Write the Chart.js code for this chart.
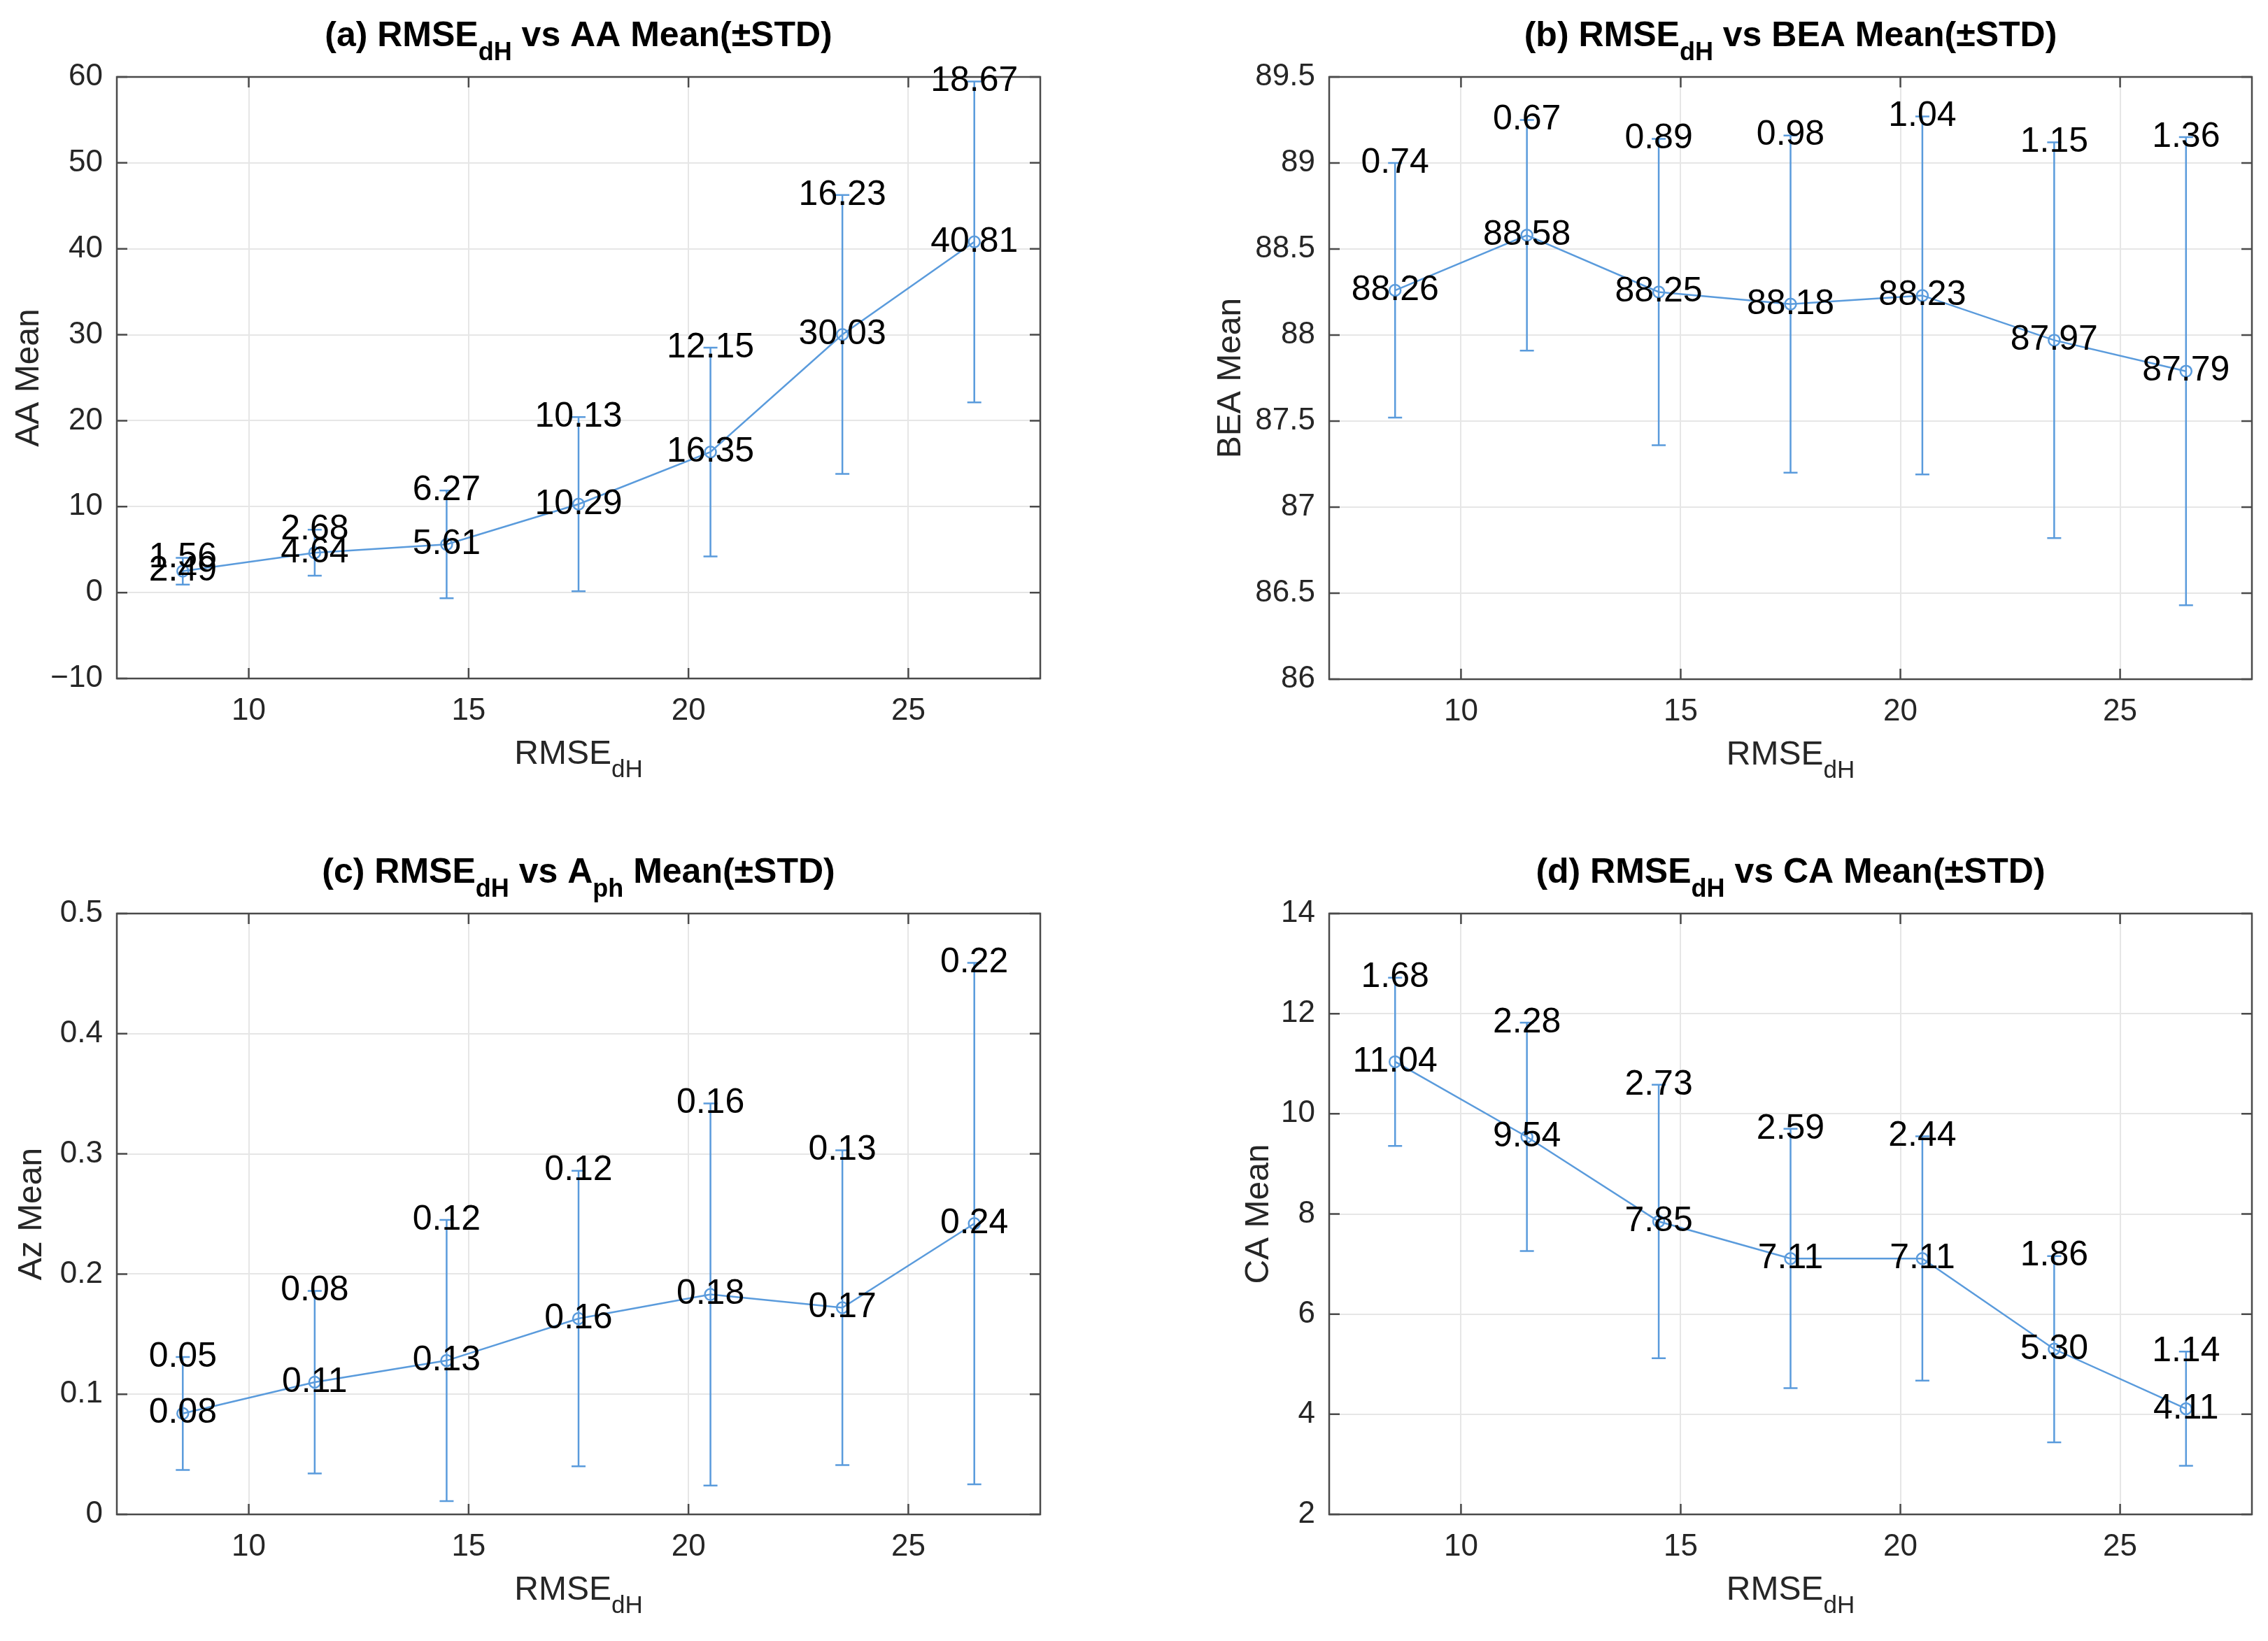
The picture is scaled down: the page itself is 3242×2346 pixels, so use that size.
<!DOCTYPE html>
<html>
<head>
<meta charset="utf-8">
<script src="https://cdn.jsdelivr.net/npm/chart.js@4.4.1/dist/chart.umd.min.js"></script>
<style>
  html, body { margin: 0; padding: 0; background: #fff; }
  .panel { position: absolute; width: 1621px; height: 1173px; }
</style>
</head>
<body>
<div class="panel" style="left:0;top:0"><canvas id="chartA"></canvas></div>
<div class="panel" style="left:1621px;top:0"><canvas id="chartB"></canvas></div>
<div class="panel" style="left:0;top:1173px"><canvas id="chartC"></canvas></div>
<div class="panel" style="left:1621px;top:1173px"><canvas id="chartD"></canvas></div>
<script>
// RMSE_dH bin centres
const rmseX = [8.5, 11.5, 14.5, 17.5, 20.5, 23.5, 26.5];

// (a) AA
const aaMean = [2.49, 4.64, 5.61, 10.29, 16.35, 30.03, 40.81];
const aaStd = [1.56, 2.68, 6.27, 10.13, 12.15, 16.23, 18.67];
// (b) BEA
const beaMean = [88.26, 88.58, 88.25, 88.18, 88.23, 87.97, 87.79];
const beaStd = [0.74, 0.67, 0.89, 0.98, 1.04, 1.15, 1.36];
// (c) Az
const azMean = [0.084, 0.11, 0.128, 0.163, 0.183, 0.172, 0.242];
const azStd = [0.047, 0.076, 0.117, 0.123, 0.159, 0.131, 0.217];
// (d) CA
const caMean = [11.04, 9.54, 7.85, 7.11, 7.11, 5.30, 4.11];
const caStd = [1.68, 2.28, 2.73, 2.59, 2.44, 1.86, 1.14];

// ticks
const xTicks = [10, 15, 20, 25];
const yTicksA = [-10, 0, 10, 20, 30, 40, 50, 60];
const yTicksB = [86, 86.5, 87, 87.5, 88, 88.5, 89, 89.5];
const yTicksC = [0, 0.1, 0.2, 0.3, 0.4, 0.5];
const yTicksD = [2, 4, 6, 8, 10, 12, 14];

const BLUE = '#5a9bdc';
const FONT = "'Liberation Sans', Arial, Helvetica, sans-serif";
const TXT = '#262626';

function drawRich(ctx, parts, cx, baseline, size, weight) {
  let total = 0;
  parts.forEach(p => {
    ctx.font = weight + ' ' + (p.sub ? Math.round(size * 0.72) : size) + 'px ' + FONT;
    p.w = ctx.measureText(p.t).width;
    total += p.w;
  });
  let x = cx - total / 2;
  ctx.textAlign = 'left';
  ctx.textBaseline = 'alphabetic';
  parts.forEach(p => {
    ctx.font = weight + ' ' + (p.sub ? Math.round(size * 0.72) : size) + 'px ' + FONT;
    ctx.fillText(p.t, x, baseline + (p.sub ? size * 0.4 : 0));
    x += p.w;
  });
}

const matlabLook = {
  id: 'matlabLook',
  beforeDatasetsDraw(chart, args, opts) {
    const ctx = chart.ctx, x = chart.scales.x, y = chart.scales.y;
    const pts = chart.data.datasets[0].data;
    ctx.save();
    ctx.strokeStyle = BLUE;
    ctx.lineWidth = 2.5;
    pts.forEach((p, i) => {
      const px = x.getPixelForValue(p.x);
      const top = y.getPixelForValue(p.y + opts.std[i]);
      const bot = y.getPixelForValue(p.y - opts.std[i]);
      ctx.beginPath();
      ctx.moveTo(px, top); ctx.lineTo(px, bot);
      ctx.moveTo(px - 10, top); ctx.lineTo(px + 10, top);
      ctx.moveTo(px - 10, bot); ctx.lineTo(px + 10, bot);
      ctx.stroke();
    });
    ctx.restore();
  },
  afterDraw(chart, args, opts) {
    const ctx = chart.ctx, x = chart.scales.x, y = chart.scales.y;
    const a = chart.chartArea;
    const pts = chart.data.datasets[0].data;
    ctx.save();
    // box + inward ticks
    ctx.strokeStyle = '#4a4a4a';
    ctx.lineWidth = 2.5;
    ctx.strokeRect(a.left, a.top, a.right - a.left, a.bottom - a.top);
    ctx.beginPath();
    opts.yTicks.forEach(v => {
      const py = y.getPixelForValue(v);
      ctx.moveTo(a.left, py); ctx.lineTo(a.left + 15, py);
      ctx.moveTo(a.right, py); ctx.lineTo(a.right - 15, py);
    });
    xTicks.forEach(v => {
      const px = x.getPixelForValue(v);
      ctx.moveTo(px, a.bottom); ctx.lineTo(px, a.bottom - 15);
      ctx.moveTo(px, a.top); ctx.lineTo(px, a.top + 15);
    });
    ctx.stroke();

    // value labels
    ctx.fillStyle = '#000';
    ctx.font = '50px ' + FONT;
    ctx.textAlign = 'center';
    ctx.textBaseline = 'middle';
    pts.forEach((p, i) => {
      const px = x.getPixelForValue(p.x);
      ctx.fillText(p.y.toFixed(2), px, y.getPixelForValue(p.y));
      ctx.fillText(opts.std[i].toFixed(2), px, y.getPixelForValue(p.y + opts.std[i]));
    });

    // title and axis labels
    const cx = (a.left + a.right) / 2;
    ctx.fillStyle = '#000';
    drawRich(ctx, opts.title, cx, a.top - 44, 50, 'bold');
    ctx.fillStyle = TXT;
    drawRich(ctx, [{t: 'RMSE'}, {t: 'dH', sub: true}], cx, a.bottom + 122, 48, 'normal');
    ctx.translate(a.left - opts.yLabelOffset, (a.top + a.bottom) / 2);
    ctx.rotate(-Math.PI / 2);
    ctx.font = '48px ' + FONT;
    ctx.textAlign = 'center';
    ctx.textBaseline = 'middle';
    ctx.fillText(opts.yLabel, 0, 0);
    ctx.restore();
  }
};

function makePanel(id, mean, std, yTicks, title, yLabel, yLabelOffset, pad) {
  new Chart(document.getElementById(id), {
    type: 'line',
    data: {
      datasets: [{
        data: rmseX.map((v, i) => ({x: v, y: mean[i]})),
        borderColor: BLUE,
        borderWidth: 2.5,
        pointRadius: 8,
        pointBorderWidth: 2.5,
        pointBorderColor: BLUE,
        pointBackgroundColor: 'rgba(0,0,0,0)',
        fill: false,
        tension: 0
      }]
    },
    options: {
      responsive: true,
      maintainAspectRatio: false,
      animation: false,
      layout: { padding: pad },
      plugins: {
        legend: { display: false },
        tooltip: { enabled: false },
        matlabLook: { std: std, yTicks: yTicks, title: title, yLabel: yLabel, yLabelOffset: yLabelOffset }
      },
      scales: {
        x: {
          type: 'linear',
          min: 7,
          max: 28,
          afterBuildTicks: s => { s.ticks = xTicks.map(v => ({value: v})); },
          afterFit: s => { s.height = 100; },
          grid: { color: '#e6e6e6', lineWidth: 2, drawTicks: false },
          border: { display: false },
          ticks: { color: TXT, font: { size: 44, family: FONT }, padding: 20, maxRotation: 0, autoSkip: false }
        },
        y: {
          type: 'linear',
          min: yTicks[0],
          max: yTicks[yTicks.length - 1],
          afterBuildTicks: s => { s.ticks = yTicks.map(v => ({value: v})); },
          afterFit: s => { s.width = 167; },
          grid: { color: '#e6e6e6', lineWidth: 2, drawTicks: false },
          border: { display: false },
          ticks: {
            color: TXT,
            font: { size: 44, family: FONT },
            padding: 20,
            autoSkip: false,
            callback: v => String(v).replace('-', '\u2212')
          }
        }
      }
    },
    plugins: [matlabLook]
  });
}

makePanel('chartA', aaMean, aaStd, yTicksA,
  [{t: '(a) RMSE'}, {t: 'dH', sub: true}, {t: ' vs AA Mean(\u00b1STD)'}],
  'AA Mean', 125, {left: 0, right: 134, top: 110, bottom: 103});
makePanel('chartB', beaMean, beaStd, yTicksB,
  [{t: '(b) RMSE'}, {t: 'dH', sub: true}, {t: ' vs BEA Mean(\u00b1STD)'}],
  'BEA Mean', 140, {left: 112, right: 23, top: 110, bottom: 102});
makePanel('chartC', azMean, azStd, yTicksC,
  [{t: '(c) RMSE'}, {t: 'dH', sub: true}, {t: ' vs A'}, {t: 'ph', sub: true}, {t: ' Mean(\u00b1STD)'}],
  'Az Mean', 121, {left: 0, right: 134, top: 133, bottom: 81});
makePanel('chartD', caMean, caStd, yTicksD,
  [{t: '(d) RMSE'}, {t: 'dH', sub: true}, {t: ' vs CA Mean(\u00b1STD)'}],
  'CA Mean', 100, {left: 112, right: 23, top: 133, bottom: 81});
</script>
</body>
</html>
